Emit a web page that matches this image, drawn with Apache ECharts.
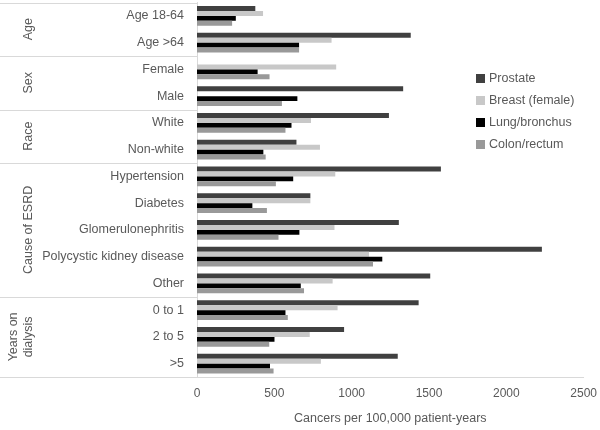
<!DOCTYPE html>
<html>
<head>
<meta charset="utf-8">
<script src="https://cdn.jsdelivr.net/npm/echarts@6/dist/echarts.min.js"></script>
<style>html,body{margin:0;padding:0;background:#fff}#c{width:600px;height:430px}</style>
</head>
<body>
<div id="c"></div>
<script>
const categories = ['Age 18-64','Age >64','Female','Male','White','Non-white','Hypertension','Diabetes','Glomerulonephritis','Polycystic kidney disease','Other','0 to 1','2 to 5','>5'];
const groups = [
  {name:['Age'], from:0, to:1},
  {name:['Sex'], from:2, to:3},
  {name:['Race'], from:4, to:5},
  {name:['Cause of ESRD'], from:6, to:10},
  {name:['Years on','dialysis'], from:11, to:13}
];
const seriesNames = ['Prostate','Breast (female)','Lung/bronchus','Colon/rectum'];
const prostate = [377,1382,null,1333,1241,643,1577,733,1305,2230,1508,1433,951,1298];
const breast   = [427,870,900,null,737,795,894,733,889,1112,877,909,729,801];
const lung     = [251,660,392,649,611,429,622,358,662,1198,671,572,501,472];
const colon    = [227,660,469,549,572,444,510,452,527,1138,692,587,467,495];
const xTicks = {min:0, max:2500, interval:500};
const xName = 'Cancers per 100,000 patient-years';

const colors = ['#404040','#c8c8c8','#000000','#999999'];
const FONT = 'Liberation Sans';
const TXT = '#595959';
const chart = echarts.init(document.getElementById('c'), null, {renderer:'canvas'});
const values = [prostate, breast, lung, colon];
chart.setOption({
  animation:false,
  textStyle:{fontFamily:FONT},
  grid:{left:197, right:14, top:2.5, bottom:49.5, containLabel:false},
  legend:{
    orient:'vertical', left:471, top:67, itemWidth:9, itemHeight:9, itemGap:9,
    icon:'rect',
    textStyle:{color:TXT, fontSize:12.5, fontFamily:FONT, padding:[0,0,0,-1]},
    data:seriesNames
  },
  xAxis:{
    type:'value', min:xTicks.min, max:xTicks.max, interval:xTicks.interval,
    axisLine:{show:true, lineStyle:{color:'#d9d9d9'}},
    axisTick:{show:false},
    splitLine:{show:false},
    axisLabel:{color:TXT, fontSize:12, margin:11, fontFamily:FONT, formatter: v => String(v)},
    name:xName, nameLocation:'middle', nameGap:35,
    nameTextStyle:{color:TXT, fontSize:12.5, fontFamily:FONT}
  },
  yAxis:{
    type:'category', inverse:true, data:categories,
    axisLine:{show:true, lineStyle:{color:'#d9d9d9'}},
    axisTick:{show:false},
    axisLabel:{color:TXT, fontSize:12.5, margin:13, fontFamily:FONT}
  },
  series: seriesNames.map((n,i)=>({
    name:n, type:'bar', data:values[i],
    barGap:'0%', barCategoryGap:'26%',
    itemStyle:{color:colors[i]}
  }))
});

function drawGroups(){
  const c0 = chart.convertToPixel({yAxisIndex:0}, categories[0]);
  const c1 = chart.convertToPixel({yAxisIndex:0}, categories[1]);
  const band = c1 - c0;
  const edge = i => c0 + (i - 0.5) * band;
  const axisX = chart.convertToPixel({xAxisIndex:0}, 0);
  const els = [];
  const bounds = [edge(0)].concat(groups.map(g => edge(g.to + 1)));
  bounds.forEach(y => {
    els.push({type:'line', silent:true, shape:{x1:0, y1:Math.round(y)+0.5, x2:axisX, y2:Math.round(y)+0.5},
      style:{stroke:'#d9d9d9', lineWidth:1}});
  });
  groups.forEach(g => {
    const yc = (edge(g.from) + edge(g.to + 1)) / 2;
    const n = g.name.length;
    g.name.forEach((t, k) => {
      const x = n === 1 ? 29 : 14 + k * 15;
      els.push({type:'text', silent:true, x:x, y:yc, rotation:Math.PI/2,
        style:{text:t, fill:TXT, fontSize:12.5, fontFamily:FONT, align:'center', verticalAlign:'middle'}});
    });
  });
  chart.setOption({graphic:{elements:els}});
}
drawGroups();
</script>
</body>
</html>
